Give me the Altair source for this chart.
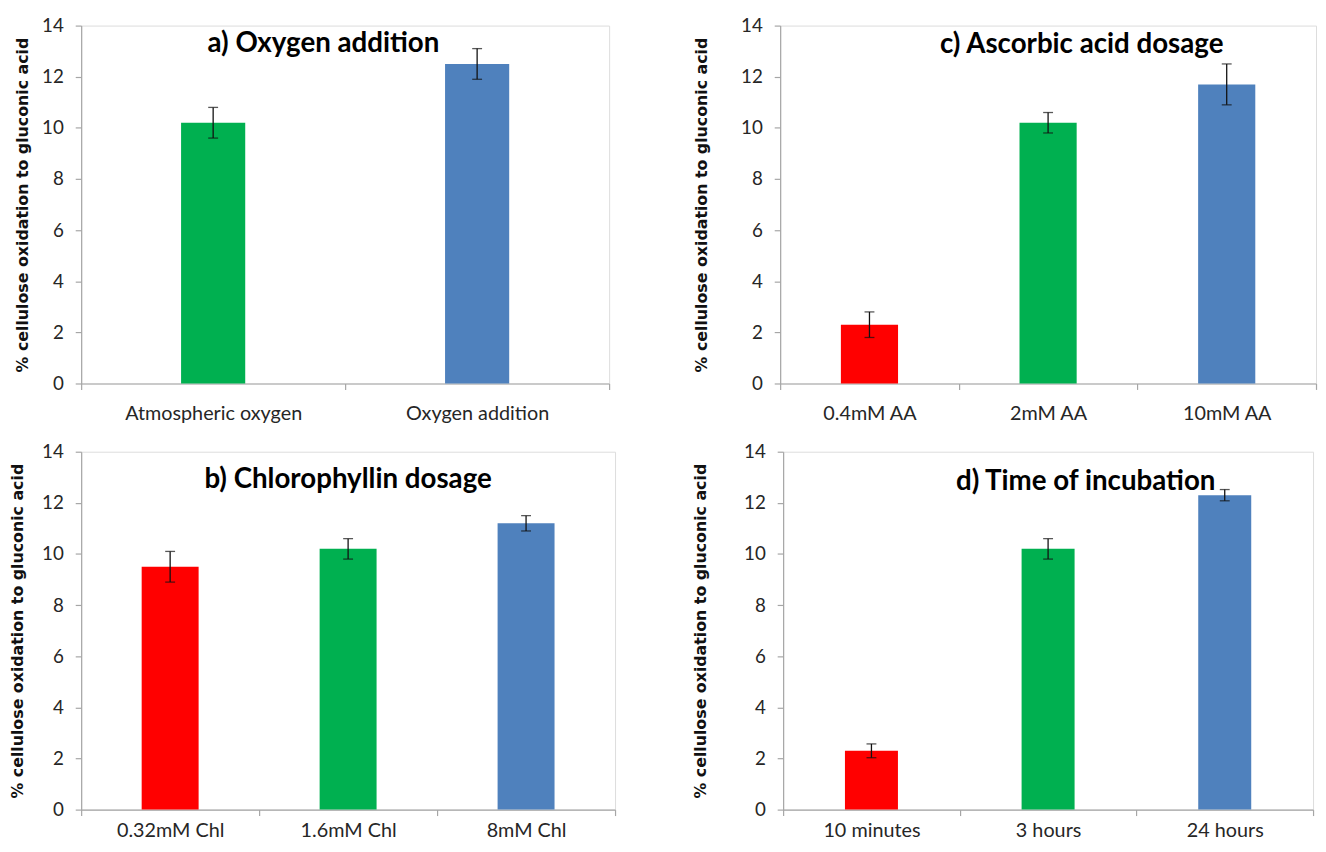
import altair as alt
import pandas as pd

Y_TITLE = "% cellulose oxidation to gluconic acid"

a_title = "a) Oxygen addition"
a_cats = ["Atmospheric oxygen", "Oxygen addition"]
a_vals = [10.2, 12.5]
a_errs = [0.6, 0.6]
a_colors = ["#00B050", "#4F81BD"]

b_title = "b) Chlorophyllin dosage"
b_cats = ["0.32mM Chl", "1.6mM Chl", "8mM Chl"]
b_vals = [9.5, 10.2, 11.2]
b_errs = [0.6, 0.4, 0.3]

c_title = "c) Ascorbic acid dosage"
c_cats = ["0.4mM AA", "2mM AA", "10mM AA"]
c_vals = [2.3, 10.2, 11.7]
c_errs = [0.5, 0.4, 0.8]

d_title = "d) Time of incubation"
d_cats = ["10 minutes", "3 hours", "24 hours"]
d_vals = [2.3, 10.2, 12.3]
d_errs = [0.27, 0.4, 0.22]

three_colors = ["#FF0000", "#00B050", "#4F81BD"]
y_ticks = [0, 2, 4, 6, 8, 10, 12, 14]


def panel(title, cats, vals, errs, colors, width, bar_frac, title_dx, title_off,
          title_size, y_title_pad, x_label_pad):
    df = pd.DataFrame({
        "cat": cats,
        "val": vals,
        "lo": [v - e for v, e in zip(vals, errs)],
        "hi": [v + e for v, e in zip(vals, errs)],
    })
    x_axis = alt.Axis(title=None, labelAngle=0, tickBand="extent", tickSize=6,
                      labelPadding=x_label_pad, labelFont="Lato", labelFontSize=20,
                      labelColor="#262626", domainColor="#A6A6A6", tickColor="#A6A6A6",
                      labelLimit=0, domainWidth=1.2, tickWidth=1.2)
    x_scale = alt.Scale(paddingInner=0, paddingOuter=0)
    y_axis = alt.Axis(values=y_ticks, title=Y_TITLE, titleFont="DejaVu Sans",
                      titleFontSize=16, titleFontWeight="bold", titleColor="#111111",
                      titlePadding=y_title_pad, grid=False, tickSize=6, labelPadding=12,
                      labelFont="Lato", labelFontSize=19, labelColor="#262626",
                      domainColor="#A6A6A6", tickColor="#A6A6A6",
                      domainWidth=1.2, tickWidth=1.2)
    y_scale = alt.Scale(domain=[0, 14], nice=False)
    base = alt.Chart(df)
    x_enc = alt.X("cat:N", sort=cats, scale=x_scale, axis=x_axis)
    bars = base.mark_bar(width=alt.RelativeBandSize(bar_frac)).encode(
        x=x_enc,
        y=alt.Y("val:Q", scale=y_scale, axis=y_axis),
        color=alt.Color("cat:N", scale=alt.Scale(domain=cats, range=colors), legend=None),
    )
    rule = base.mark_rule(color="#111111", strokeWidth=1.3).encode(
        x=x_enc,
        y=alt.Y("lo:Q", scale=y_scale, axis=y_axis),
        y2="hi:Q",
    )
    cap_lo = base.mark_tick(color="#111111", size=10, thickness=1.3).encode(
        x=x_enc, y=alt.Y("lo:Q", scale=y_scale, axis=y_axis))
    cap_hi = base.mark_tick(color="#111111", size=10, thickness=1.3).encode(
        x=x_enc, y=alt.Y("hi:Q", scale=y_scale, axis=y_axis))
    return alt.layer(bars, rule, cap_lo, cap_hi).properties(
        width=width, height=362,
        title=alt.TitleParams(title, font="Lato", fontSize=title_size, fontWeight="bold",
                              color="#000000", anchor="middle", frame="group",
                              dx=title_dx, offset=title_off, baseline="alphabetic"),
    )


pa = panel(a_title, a_cats, a_vals, a_errs, a_colors, 534, 0.243, -22, -64, 28, 11, 14)
pc = panel(c_title, c_cats, c_vals, c_errs, three_colors, 542, 0.32, 34, -65, 28, 31, 14)
pb = panel(b_title, b_cats, b_vals, b_errs, three_colors, 540, 0.32, 0, -74, 28, 16, 5)
pd_ = panel(d_title, d_cats, d_vals, d_errs, three_colors, 536, 0.30, 38, -76, 28, 35, 5)

row1 = alt.hconcat(pa, pc, spacing=83).resolve_scale(color="independent")
row2 = alt.hconcat(pb, pd_, spacing=76).resolve_scale(color="independent")
chart = alt.vconcat(row1, row2, spacing=18).resolve_scale(color="independent").properties(
    padding={"left": 1, "top": 3, "right": 0, "bottom": 0}
).configure_view(stroke=None).configure(background="white")

chart.save("out.html", embed_options={"renderer": "svg", "actions": False})
